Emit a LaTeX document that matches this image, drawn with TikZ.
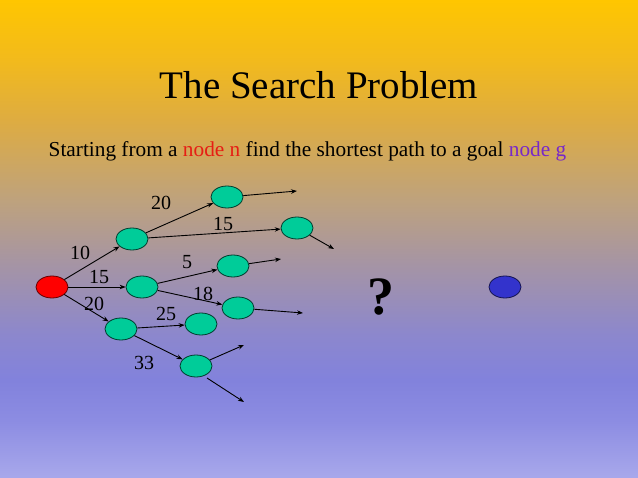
\documentclass[tikz,border=0pt]{standalone}
\usepackage{fontspec}
\setmainfont{Liberation Serif}
\usetikzlibrary{shapes.geometric,arrows.meta}
\definecolor{bgA}{RGB}{255,198,0}
\definecolor{bgB}{RGB}{242,186,28}
\definecolor{bgC}{RGB}{222,172,65}
\definecolor{bgD}{RGB}{190,162,125}
\definecolor{bgE}{RGB}{165,148,165}
\definecolor{bgF}{RGB}{140,135,205}
\definecolor{bgG}{RGB}{130,130,220}
\definecolor{bgH}{RGB}{140,140,226}
\definecolor{bgI}{RGB}{168,168,235}
\definecolor{nodegreen}{RGB}{0,204,153}
\definecolor{nodered}{RGB}{255,0,0}
\definecolor{nodeblue}{RGB}{51,51,204}
\definecolor{txtred}{RGB}{230,30,20}
\definecolor{txtpurple}{RGB}{120,40,200}
\pgfdeclareverticalshading{slidebg}{100bp}{color(0bp)=(bgI); color(25bp)=(bgI); color(31.07bp)=(bgH); color(35.25bp)=(bgG); color(39.96bp)=(bgF); color(47.28bp)=(bgE); color(54.08bp)=(bgD); color(62.45bp)=(bgC); color(68.72bp)=(bgB); color(75bp)=(bgA); color(100bp)=(bgA)}
\tikzset{
  state/.style={ellipse, draw=black!70!nodegreen, fill=nodegreen, line width=0.8pt, minimum width=32pt, minimum height=22pt, inner sep=0pt},
  start/.style={state, draw=black!60!nodered, fill=nodered},
  goal/.style={state, draw=black!60!nodeblue, fill=nodeblue},
  edge/.style={draw=black, line width=0.9pt, -{Stealth[length=6pt,width=4.5pt]}},
  lbl/.style={font=\fontsize{20}{20}\selectfont, inner sep=0pt, text=black}
}
\begin{document}
\begin{tikzpicture}[x=1pt,y=-1pt]
\shade[shading=slidebg] (0,0) rectangle (638,478);
\useasboundingbox (0,0) rectangle (638,478);

\node[font=\fontsize{39}{39}\selectfont, inner sep=0pt] (title) at (319,85) {The Search Problem};
\node[font=\fontsize{21.3}{21.3}\selectfont, inner sep=0pt, anchor=base] (sub) at (307.5,157)
  {Starting from a \textcolor{txtred}{node n} find the shortest path to a goal \textcolor{txtpurple}{node g}};

\node[start] (n) at (52,287) {};
\node[state] (a) at (132,239) {};
\node[state] (b) at (142,287) {};
\node[state] (c) at (121,329) {};
\node[state] (d) at (227,197) {};
\node[state] (e) at (297,228) {};
\node[state] (f) at (233,266) {};
\node[state] (g) at (238,308) {};
\node[state] (h) at (201,324) {};
\node[state] (i) at (196,366) {};
\node[goal] (goal) at (505,287) {};
\node[font=\bfseries\fontsize{54}{54}\selectfont, inner sep=0pt] (q) at (381,297) {?};

\coordinate (dx) at (297,191);
\coordinate (ex) at (334,249);
\coordinate (fx) at (281,259);
\coordinate (gx) at (303,313);
\coordinate (iu) at (244,345);
\coordinate (istart) at (207,378);
\coordinate (id) at (244,402);

\draw[edge] (n) -- (a);
\draw[edge] (n) -- (b);
\draw[edge] (n) -- (c);
\draw[edge] (a) -- (d);
\draw[edge] (a) -- (e);
\draw[edge] (b) -- (f);
\draw[edge] (b) -- (g);
\draw[edge] (c) -- (h);
\draw[edge] (c) -- (i);
\draw[edge] (d) -- (dx);
\draw[edge] (e) -- (ex);
\draw[edge] (f) -- (fx);
\draw[edge] (g) -- (gx);
\draw[edge] (i) -- (iu);
\draw[edge] (istart) -- (id);

\node[lbl] (l1) at (80,253) {10};
\node[lbl] (l2) at (99,277) {15};
\node[lbl] (l3) at (94,304) {20};
\node[lbl] (l4) at (161,203) {20};
\node[lbl] (l5) at (223,224) {15};
\node[lbl] (l6) at (187,262) {5};
\node[lbl] (l7) at (203,294) {18};
\node[lbl] (l8) at (166,314) {25};
\node[lbl] (l9) at (144,363) {33};
\end{tikzpicture}
\end{document}
